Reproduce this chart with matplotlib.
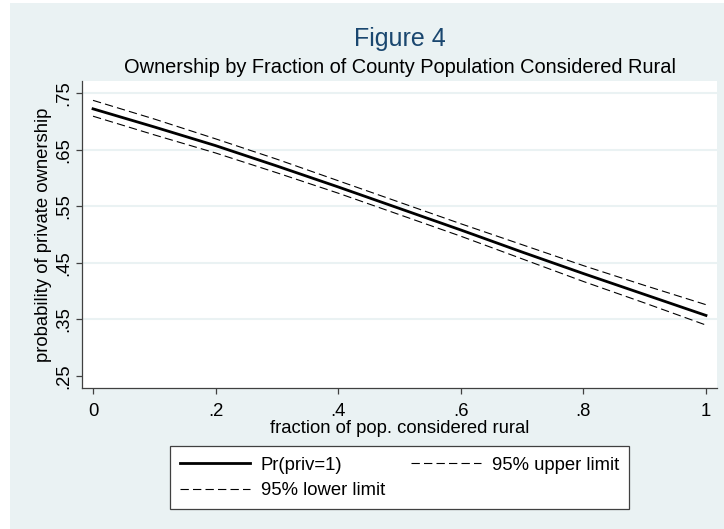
import matplotlib
matplotlib.use('Agg')
import matplotlib.pyplot as plt
from matplotlib.patches import Rectangle

# values
rural = [0.0, 0.1, 0.2, 0.3, 0.4, 0.5, 0.6, 0.7, 0.8, 0.9, 1.0]
pr_priv = [0.722, 0.690, 0.657, 0.621, 0.584, 0.546, 0.508, 0.469, 0.431, 0.394, 0.357]
upper = [0.737, 0.704, 0.669, 0.633, 0.595, 0.557, 0.519, 0.482, 0.445, 0.410, 0.376]
lower = [0.709, 0.676, 0.644, 0.609, 0.573, 0.535, 0.497, 0.457, 0.417, 0.379, 0.340]

xticks = [0, 0.2, 0.4, 0.6, 0.8, 1.0]
xticklabels = ['0', '.2', '.4', '.6', '.8', '1']
yticks = [0.25, 0.35, 0.45, 0.55, 0.65, 0.75]
yticklabels = ['.25', '.35', '.45', '.55', '.65', '.75']

BG = '#EAF2F3'
AXC = '#404040'
W, H = 724, 529

plt.rcParams['font.family'] = ['Liberation Sans', 'DejaVu Sans']
plt.rcParams['lines.scale_dashes'] = False

fig = plt.figure(figsize=(W / 100, H / 100), dpi=100, facecolor='white')
fig.patches.append(Rectangle((10 / W, 0), 1, 1 - 3 / H, transform=fig.transFigure,
                             facecolor=BG, edgecolor='none', zorder=-10))

ax = fig.add_axes([82 / W, 1 - 388 / H, (717 - 82) / W, (388 - 81) / H])
ax.set_facecolor('white')

ax.plot(rural, pr_priv, color='black', lw=2.0, label='Pr(priv=1)')
ax.plot(rural, lower, color='black', lw=0.8, dashes=(6, 3), label='95% lower limit')
ax.plot(rural, upper, color='black', lw=0.8, dashes=(6, 3), label='95% upper limit')

ax.set_xlim(-0.018, 1.018)
ax.set_ylim(0.2288, 0.7712)
ax.set_xticks(xticks)
ax.set_xticklabels(xticklabels)
ax.set_yticks(yticks)
ax.set_yticklabels(yticklabels, rotation=90, va='center')

for v in yticks[1:]:
    ax.axhline(v, color=BG, lw=1.5, zorder=0)

for s in ['top', 'right']:
    ax.spines[s].set_visible(False)
for s in ['left', 'bottom']:
    ax.spines[s].set_color(AXC)
    ax.spines[s].set_linewidth(0.9)

ax.tick_params(axis='both', length=4, width=0.9, color=AXC, labelsize=13.3)
ax.tick_params(axis='x', pad=6.5)
ax.tick_params(axis='y', pad=3)

ax.set_xlabel('fraction of pop. considered rural', fontsize=13.3)
ax.xaxis.label.set_va('baseline')
ax.xaxis.set_label_coords(0.5, -(432.7 - 388) / 307)
ax.set_ylabel('probability of private ownership', fontsize=13.3)
ax.yaxis.label.set_va('center')
ax.yaxis.set_label_coords((44 - 82) / 635, 0.5)

fig.text(399.5 / W, 1 - 45.7 / H, 'Figure 4', ha='center', va='baseline',
         fontsize=18, color='#1A476F')
fig.text(399.5 / W, 1 - 72.7 / H, 'Ownership by Fraction of County Population Considered Rural',
         ha='center', va='baseline', fontsize=14.4, color='black')

leg = fig.legend(loc='upper left', ncol=2, mode='expand',
                 bbox_to_anchor=(170 / W, 1 - 447 / H, (629 - 170) / W, 0.001),
                 borderaxespad=0, fontsize=13.3, handlelength=3.8, handletextpad=0.55,
                 labelspacing=0.46, borderpad=0.55, fancybox=False, framealpha=1,
                 edgecolor=AXC, facecolor='white')
leg.get_frame().set_linewidth(0.9)

fig.savefig('out.png', dpi=100, facecolor=fig.get_facecolor())
